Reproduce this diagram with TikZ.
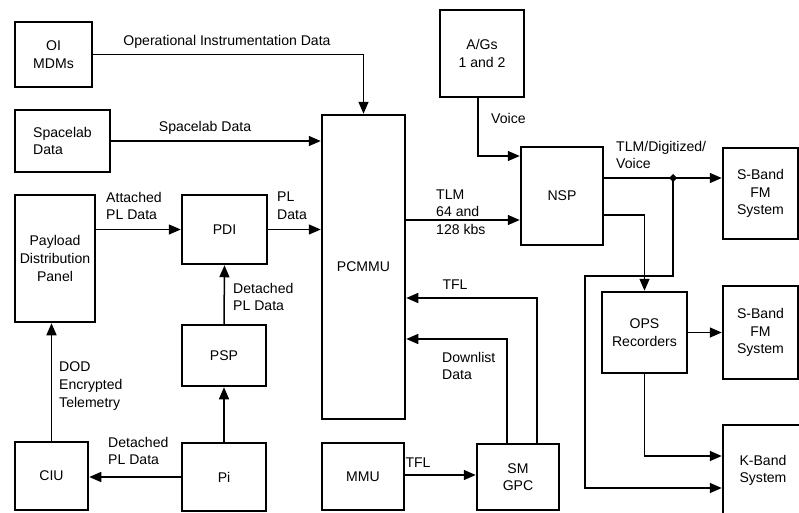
\documentclass[tikz,border=0pt]{standalone}
\usepackage{fontspec}
\setmainfont{Liberation Sans}
\usetikzlibrary{arrows.meta}
\tikzset{
  box/.style={draw, line width=0.75mm, inner sep=0pt, align=center, font=\fontsize{12}{15}\selectfont},
  conn/.style={line width=0.45mm, -{Triangle[length=3.6mm,width=3mm]}},
  lbl/.style={font=\fontsize{12}{15}\selectfont, align=left, inner sep=0pt},
}
\newcommand{\pbox}[7][]{%
  \node[box,#1, minimum width={(#5-#3)*0.3mm}, minimum height={(#6-#4)*0.3mm}]
    (#2) at ({(#3+#5)/2},{(#4+#6)/2}) {#7};}
\begin{document}
\begin{tikzpicture}[x=0.3mm,y=-0.3mm]
\useasboundingbox (0,0) rectangle (799,512);
\clip (0,0) rectangle (799,512);
% boxes
\pbox{oi}{15}{22}{92}{87}{OI\\MDMs}
\pbox[align=left]{slab}{15}{110}{110}{172}{Spacelab\\Data}
\pbox{pdp}{15}{195}{95}{322}{Payload\\Distribution\\Panel}
\pbox{pdi}{182}{195}{267}{264}{PDI}
\pbox{psp}{182}{325}{266}{386}{PSP}
\pbox{pi}{182}{443}{266}{511}{Pi}
\pbox{ciu}{15}{442}{88}{510}{CIU}
\pbox{pcmmu}{322}{115}{405}{419}{PCMMU}
\pbox{mmu}{322}{443}{404}{510}{MMU}
\pbox{smgpc}{477}{444}{559}{510}{SM\\GPC}
\pbox{aigs}{440}{10}{524}{97}{A/Gs\\1 and 2}
\pbox{nsp}{521}{147}{603}{245}{NSP}
\pbox{sb1}{723}{148}{798}{239}{S-Band\\FM\\System}
\pbox{ops}{602}{292}{687}{373}{OPS\\Recorders}
\pbox{sb2}{723}{286}{798}{379}{S-Band\\FM\\System}
\pbox{kb}{723}{425}{803}{516}{K-Band\\System}
% helper coordinates
\coordinate (t1) at (405,220);
\coordinate (v1) at (478,156);
\coordinate (j) at (673,178);
\coordinate (o1) at (646,215);
\coordinate (k1) at (585,488);
\coordinate (k2) at (646,456);
\coordinate (s1) at (537,298);
\coordinate (s2) at (507,339);
\coordinate (m1) at (405,475);
% connectors
\draw[conn] (oi.east) -| (pcmmu.north);
\node[lbl] at (227,42) {Operational Instrumentation Data};
\draw[conn] (slab.east) -- (slab.east -| pcmmu.west);
\node[lbl] at (205,128) {Spacelab Data};
\draw[conn] (pdi.west -| pdp.east) -- (pdi.west);
\node[lbl, anchor=west] at (106,206) {Attached\\PL Data};
\draw[conn] (pdi.east) -- (pdi.east -| pcmmu.west);
\node[lbl, anchor=west] at (277,206) {PL\\Data};
\draw[conn] (psp.north) -- (pdi.south);
\node[lbl, anchor=west] at (233,297) {Detached\\PL Data};
\draw[conn] (pi.north) -- (psp.south);
\draw[conn] (pi.west) -- (pi.west -| ciu.east);
\node[lbl, anchor=west] at (108,451) {Detached\\PL Data};
\draw[conn] (ciu.north) -- (ciu.north |- pdp.south);
\node[lbl, anchor=west] at (59,386) {DOD\\Encrypted\\Telemetry};
\draw[conn] (t1 -| pcmmu.east) -- (t1 -| nsp.west);
\node[lbl, anchor=west] at (436,212) {TLM\\64 and\\128 kbs};
\draw[conn] (v1 |- aigs.south) -- (v1) -- (v1 -| nsp.west);
\node[lbl, anchor=west] at (491,118) {Voice};
\draw[conn] (j -| nsp.east) -- (j -| sb1.west);
\fill (j) ++(-4,0) -- ++(4,-4) -- ++(4,4) -- ++(-4,4) -- cycle;
\node[lbl, anchor=west] at (616,155) {TLM/Digitized/\\Voice};
\draw[conn] (o1 -| nsp.east) -| (ops.north);
\draw[conn] (j) -- (673,276) -- (585,276) -- (k1) -- (k1 -| kb.west);
\draw[conn] (ops.east) -- (ops.east -| sb2.west);
\draw[conn] (ops.south) |- (k2 -| kb.west);
\draw[conn] (s1 |- smgpc.north) -- (s1) -- (s1 -| pcmmu.east);
\node[lbl] at (455,285) {TFL};
\draw[conn] (s2 |- smgpc.north) -- (s2) -- (s2 -| pcmmu.east);
\node[lbl, anchor=west] at (442,366) {Downlist\\Data};
\draw[conn] (m1 -| mmu.east) -- (m1 -| smgpc.west);
\node[lbl] at (418,463) {TFL};
\end{tikzpicture}
\end{document}
